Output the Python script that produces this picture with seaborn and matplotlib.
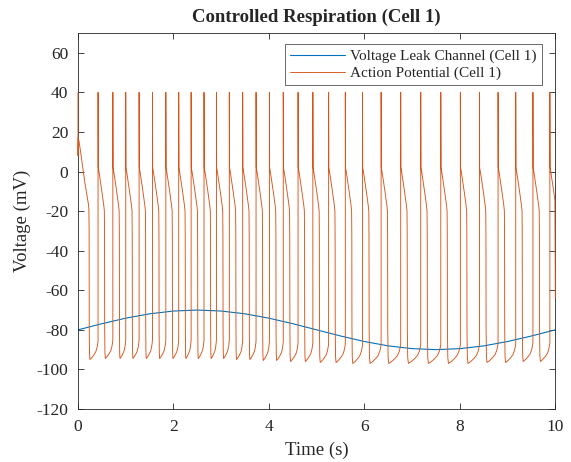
import numpy as np
import pandas as pd
import matplotlib
matplotlib.use("Agg")
import matplotlib.pyplot as plt
import seaborn as sns

# ------------------------------------------
# data
# ------------------------------------------
# leak channel voltage, sampled every 0.5 s
leak_time = [0.0, 0.5, 1.0, 1.5, 2.0, 2.5, 3.0, 3.5, 4.0, 4.5, 5.0,
             5.5, 6.0, 6.5, 7.0, 7.5, 8.0, 8.5, 9.0, 9.5, 10.0]
leak_mv = [-80.0, -76.9, -74.1, -71.9, -70.5, -70.0, -70.5, -71.9, -74.1, -76.9, -80.0,
           -83.1, -85.9, -88.1, -89.5, -90.0, -89.5, -88.1, -85.9, -83.1, -80.0]

# spike onset times (s)
spike_time = [0.42, 0.73, 1.00, 1.28, 1.56, 1.84, 2.11, 2.37, 2.64, 2.90,
              3.17, 3.45, 3.73, 4.01, 4.30, 4.61, 4.92, 5.25, 5.60, 5.96,
              6.35, 6.76, 7.18, 7.60, 8.01, 8.41, 8.80, 9.17, 9.53, 9.885]

# trough depth of each cycle (first cycle + one per spike)
trough_mv = [-95.0, -94.5, -94.5, -94.5, -94.5, -94.5, -94.5, -94.5, -94.5, -94.5,
             -94.5, -95.0, -95.0, -95.5, -95.5, -96.0, -96.0, -96.5, -96.5, -97.0,
             -97.0, -97.0, -97.0, -97.0, -97.0, -97.0, -96.5, -96.5, -96.0, -96.0,
             -96.0]

# first cycle (starts at the top of a spike at t = 0)
first_dt = [0.0, 0.0, 0.004, 0.02, 0.06, 0.10, 0.14, 0.18, 0.215, 0.228, 0.233, 0.236]
first_mv = [40.0, 8.0, 17.0, 15.5, 9.0, 2.0, -5.0, -11.0, -16.0, -19.0, -30.0, -80.0]

# shape of one spike after onset: peak, shoulder and fast drop
spike_dt = [0.0, 0.004, 0.025, 0.05, 0.08, 0.105, 0.122, 0.132, 0.136, 0.139]
spike_mv = [40.0, 2.0, -1.0, -5.0, -10.0, -14.5, -17.5, -20.0, -32.0, -80.0]

# slow recovery between drop and next spike (fraction of gap, mV above trough)
rec_frac = [0.03, 0.08, 0.3, 0.55, 0.75, 0.88, 0.96, 1.0]
rec_dv = [3.0, 0.0, 1.0, 2.5, 4.0, 6.0, 8.0, 9.5]

end_mv = -64.0  # value at t = 10 s, halfway down the last drop

# ------------------------------------------
# build the action potential trace
# ------------------------------------------
ap_t, ap_v = [], []


def add_recovery(t0, t1, trough):
    for f, dv in zip(rec_frac, rec_dv):
        ap_t.append(t0 + f * (t1 - t0))
        ap_v.append(trough + dv)


ap_t += list(first_dt)
ap_v += list(first_mv)
add_recovery(first_dt[-1], spike_time[0], trough_mv[0])

for i, ts in enumerate(spike_time):
    last = i == len(spike_time) - 1
    for dt, v in zip(spike_dt, spike_mv):
        if last and ts + dt > 10.0:
            break
        ap_t.append(ts + dt)
        ap_v.append(v)
    if last:
        ap_t.append(10.0)
        ap_v.append(end_mv)
    else:
        add_recovery(ts + spike_dt[-1], spike_time[i + 1], trough_mv[i + 1])

leak_df = pd.DataFrame({"Time": leak_time, "Voltage": leak_mv})
ap_df = pd.DataFrame({"Time": ap_t, "Voltage": ap_v})

# ------------------------------------------
# plot
# ------------------------------------------
sns.set_style("ticks")
plt.rcParams["font.family"] = ["Liberation Serif", "DejaVu Serif"]
plt.rcParams["axes.unicode_minus"] = False

fig = plt.figure(figsize=(5.71, 4.62), dpi=100)
ax = fig.add_axes([0.1366, 0.1147, 0.836, 0.8139])

sns.lineplot(data=leak_df, x="Time", y="Voltage", estimator=None, sort=False,
             color="#0072BD", linewidth=0.8, label="Voltage Leak Channel (Cell 1)", ax=ax)
sns.lineplot(data=ap_df, x="Time", y="Voltage", estimator=None, sort=False,
             color="#D95319", linewidth=0.65, label="Action Potential (Cell 1)", ax=ax)
ax.lines[1].set_zorder(3)
ax.lines[1].set_clip_on(False)

ax.set_xlim(0, 10)
ax.set_ylim(-120, 70)
ax.set_xticks([0, 2, 4, 6, 8, 10])
ax.set_yticks(list(range(-120, 61, 20)))
ax.tick_params(direction="in", top=True, right=True, length=4, width=0.6,
               labelsize=12.5, colors="#262626", pad=7)
for s in ax.spines.values():
    s.set_color("#262626")
    s.set_linewidth(0.6)

ax.set_title("Controlled Respiration (Cell 1)", fontsize=13.5, fontweight="bold", pad=8)
ax.set_xlabel("Time (s)", fontsize=13.5, color="#262626", labelpad=5)
ax.set_ylabel("Voltage (mV)", fontsize=13.5, color="#262626", labelpad=4)

leg = ax.legend(loc="upper right", bbox_to_anchor=(0.9717, 0.9707), borderaxespad=0,
                fontsize=11, frameon=True, fancybox=False, handlelength=3.6,
                handletextpad=0.3, borderpad=0.35, labelspacing=0.2)
leg.get_frame().set_edgecolor("#262626")
leg.get_frame().set_linewidth(0.6)

fig.savefig("out.png", dpi=100)
